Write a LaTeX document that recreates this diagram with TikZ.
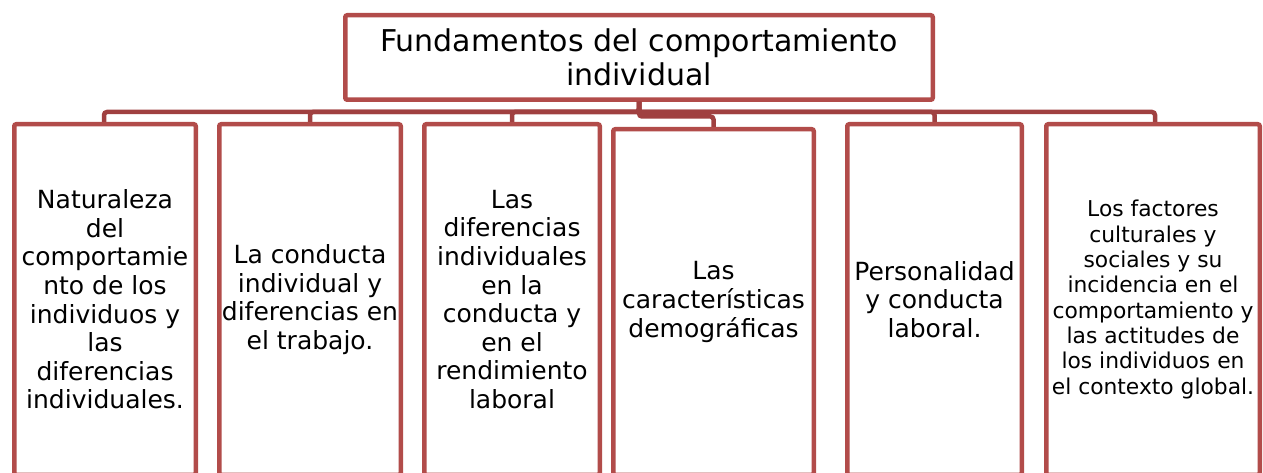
\documentclass[tikz,border=0pt]{standalone}
\usepackage{fontspec}
\setmainfont{DejaVu Sans}
\definecolor{boxred}{RGB}{178,76,74}
\definecolor{linkred}{RGB}{160,64,64}

\begin{document}
\begin{tikzpicture}
[
    x={(1pt,0)}, y={(0,-1pt)},
    box/.style={draw=boxred, line width=4.5pt, rounded corners=2pt, fill=white, align=center, inner sep=0pt, minimum height=350.5pt},
    rootbox/.style={box, minimum width=587.5pt, minimum height=84.5pt, font=\fontsize{30}{34}\selectfont},
    leafbox/.style={box, font=\fontsize{25}{28.6}\selectfont},
    link/.style={draw=linkred, line width=4.5pt, rounded corners=3pt},
]
\useasboundingbox (0,0) rectangle (1263,473);
\node [rootbox] (root) at (639,57.5)
{Fundamentos del comportamiento\\individual};
\coordinate (bus) at (639,112);
\coordinate (bus4) at (639,116.5);
\draw [link] (root.south) -- (bus) -| (104,124.25) coordinate (d1);
\draw [link] (root.south) -- (bus) -| (310,124.25) coordinate (d2);
\draw [link] (root.south) -- (bus) -| (512,124.25) coordinate (d3);
\draw [link] (root.south) -- (bus4) -| (713.5,129.25) coordinate (d4);
\draw [link] (root.south) -- (bus) -| (934.5,124.25) coordinate (d5);
\draw [link] (root.south) -- (bus) -| (1155,124.25) coordinate (d6);
\node [leafbox, minimum width=181.5pt] (nat) at (105,299.5)
{Naturaleza\\del\\comportamie\\nto de los\\individuos y\\las\\diferencias\\individuales.};
\node [leafbox, minimum width=181.5pt] (cond) at (310,299.5)
{La conducta\\individual y\\diferencias en\\el trabajo.};
\node [leafbox, minimum width=175.5pt] (dif) at (512,299.5)
{Las\\diferencias\\individuales\\en la\\conducta y\\en el\\rendimiento\\laboral};
\node [leafbox, minimum width=200.5pt, minimum height=345.5pt] (dem) at (713.5,302)
{Las\\características\\demográficas};
\node [leafbox, minimum width=174.5pt] (pers) at (934.5,299.5)
{Personalidad\\y conducta\\laboral.};
\node [box, minimum width=213.5pt, font=\fontsize{21.8}{25.3}\selectfont] (fact) at (1153,299.5)
{Los factores\\culturales y\\sociales y su\\incidencia en el\\comportamiento y\\las actitudes de\\los individuos en\\el contexto global.};
\end{tikzpicture}
\end{document}
